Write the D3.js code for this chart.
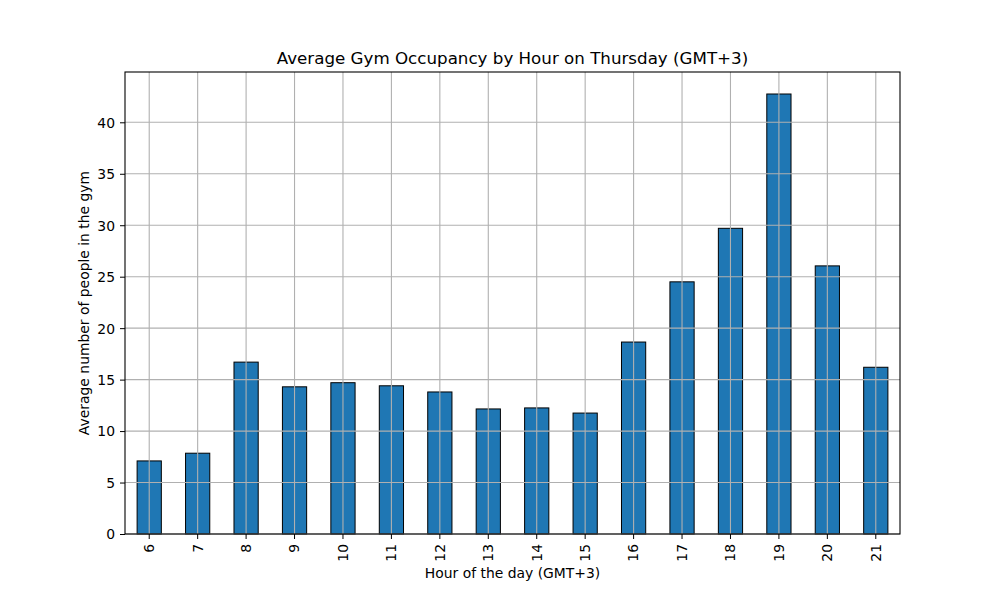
<!DOCTYPE html>
<html>
<head>
<meta charset="utf-8">
<script src="https://cdn.jsdelivr.net/npm/d3@7"></script>
<style>
  body { margin: 0; background: #fff; }
  svg text { font-family: "DejaVu Sans", sans-serif; fill: #000; }
</style>
</head>
<body>
<script>
// hours shown on the x axis
const hours = [6, 7, 8, 9, 10, 11, 12, 13, 14, 15, 16, 17, 18, 19, 20, 21];
// average people in gym
const occupancy = [7.1, 7.85, 16.7, 14.3, 14.7, 14.4, 13.8, 12.15, 12.25, 11.75, 18.65, 24.5, 29.7, 42.75, 26.05, 16.2];
const yTicks = [0, 5, 10, 15, 20, 25, 30, 35, 40];

const W = 1000, H = 600;
const margin = {top: 72, right: 100, bottom: 66, left: 125};
const width = W - margin.left - margin.right,
      height = H - margin.top - margin.bottom;

const svg = d3.select("body").append("svg")
    .attr("width", W)
    .attr("height", H);

const g = svg.append("g")
    .attr("transform", "translate(" + margin.left + "," + margin.top + ")");

let x = d3.scaleBand()
    .domain(hours)
    .range([0, width])
    .paddingInner(0.5)
    .paddingOuter(0.25);

let y = d3.scaleLinear()
    .domain([0, d3.max(occupancy) * 1.05])
    .range([height, 0]);

// bars
g.selectAll(".bar")
    .data(hours)
    .join("rect")
    .attr("class", "bar")
    .attr("x", d => x(d))
    .attr("y", (d, i) => y(occupancy[i]))
    .attr("width", x.bandwidth())
    .attr("height", (d, i) => y(0) - y(occupancy[i]))
    .attr("fill", "#1f77b4")
    .attr("stroke", "#000")
    .attr("stroke-width", 1);

// grid on top of the bars, like matplotlib does for patches
g.append("g")
    .selectAll("line")
    .data(hours)
    .join("line")
    .attr("x1", d => x(d) + x.bandwidth() / 2)
    .attr("x2", d => x(d) + x.bandwidth() / 2)
    .attr("y1", 0)
    .attr("y2", height)
    .attr("stroke", "#b0b0b0")
    .attr("stroke-width", 1.1);

g.append("g")
    .selectAll("line")
    .data(yTicks)
    .join("line")
    .attr("x1", 0)
    .attr("x2", width)
    .attr("y1", d => y(d))
    .attr("y2", d => y(d))
    .attr("stroke", "#b0b0b0")
    .attr("stroke-width", 1.1);

// axes
let xAxis = g.append("g")
    .attr("transform", "translate(0," + height + ")")
    .call(d3.axisBottom(x).tickSize(5).tickPadding(5).tickSizeOuter(0));
xAxis.select(".domain").remove();
xAxis.selectAll("line").attr("stroke", "#000");
xAxis.selectAll("text")
    .attr("font-size", "13.9px")
    .attr("y", 0)
    .attr("x", -10)
    .attr("dy", "0.35em")
    .attr("transform", "rotate(-90)")
    .style("text-anchor", "end");

let yAxis = g.append("g")
    .call(d3.axisLeft(y).tickValues(yTicks).tickSize(5).tickPadding(5).tickSizeOuter(0));
yAxis.select(".domain").remove();
yAxis.selectAll("line").attr("stroke", "#000");
yAxis.selectAll("text").attr("font-size", "13.9px");
yAxis.selectAll("text").attr("dy", "0.35em");

// frame
g.append("rect")
    .attr("width", width)
    .attr("height", height)
    .attr("fill", "none")
    .attr("stroke", "#000")
    .attr("stroke-width", 1.1);

// labels
svg.append("text")
    .attr("x", margin.left + width / 2)
    .attr("y", 64)
    .attr("text-anchor", "middle")
    .attr("font-size", "16.7px")
    .text("Average Gym Occupancy by Hour on Thursday (GMT+3)");

svg.append("text")
    .attr("x", margin.left + width / 2)
    .attr("y", 578)
    .attr("text-anchor", "middle")
    .attr("font-size", "13.9px")
    .text("Hour of the day (GMT+3)");

svg.append("text")
    .attr("transform", "translate(89," + (margin.top + height / 2) + ") rotate(-90)")
    .attr("text-anchor", "middle")
    .attr("font-size", "13.9px")
    .text("Average number of people in the gym");
</script>
</body>
</html>
